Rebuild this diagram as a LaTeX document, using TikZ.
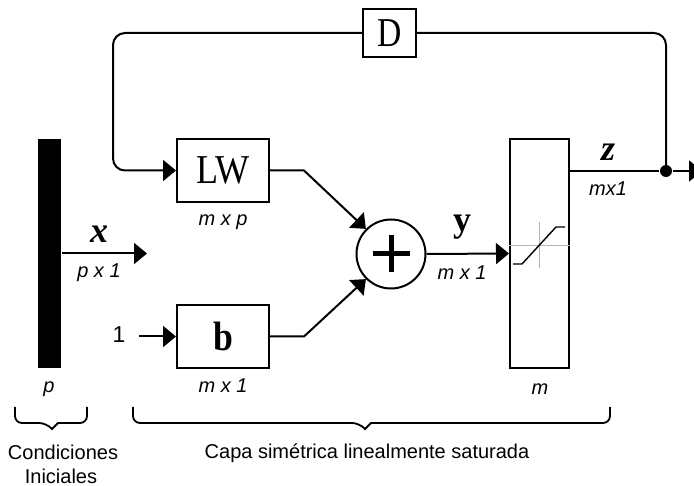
\documentclass[tikz,border=0pt]{standalone}
\usepackage{fontspec}
\setmainfont{Liberation Serif}
\setsansfont{Liberation Sans}
\usetikzlibrary{arrows.meta,calc}
\begin{document}
\begin{tikzpicture}[x=1pt,y=-1pt,
  line width=2pt,
  tip/.style={-{Triangle[length=13pt,width=21pt]}},
  blk/.style={draw,rectangle,inner sep=0pt,line width=2pt},
  dim/.style={font=\sffamily\itshape\fontsize{20}{24}\selectfont,inner sep=0pt,anchor=base},
  captxt/.style={font=\sffamily\fontsize{20}{23}\selectfont,inner sep=0pt,anchor=base},
  sig/.style={inner sep=0pt,anchor=base,font=\fontsize{36}{40}\selectfont\bfseries}
]
\useasboundingbox (0,0) rectangle (694,486);
% blocks
\node[fill=black,inner sep=0pt,minimum width=23pt,minimum height=229pt] (bar) at (49.5,253.5) {};
\node[blk,minimum width=92pt,minimum height=63pt,font=\fontsize{41}{44}\selectfont] (LW) at (223,170.5) {\scalebox{0.88}[1]{LW}};
\node[blk,minimum width=92pt,minimum height=63pt,font=\fontsize{41}{44}\selectfont\bfseries] (b) at (223,336.5) {\scalebox{0.87}[1]{b}};
\node[blk,minimum width=53pt,minimum height=48pt,font=\fontsize{41}{44}\selectfont] (D) at (389.5,33) {\scalebox{0.82}[1]{D}};
\node[draw,circle,inner sep=0pt,minimum size=69pt,line width=2pt] (sum) at (391,254) {};
\node[blk,minimum width=59pt,minimum height=229pt] (sat) at (539.5,253.5) {};
\node[circle,fill=black,inner sep=0pt,minimum size=12pt] (dot) at (666,171) {};
% plus sign
\draw[line width=5pt] ($(sum.center)+(-18.5,0)$) -- ($(sum.center)+(18.5,0)$);
\draw[line width=5pt] ($(sum.center)+(0,-18.5)$) -- ($(sum.center)+(0,18.5)$);
% saturation symbol
\draw[gray!60,line width=0.8pt] (sat.west |- 0,245) -- (sat.east |- 0,245);
\draw[gray!60,line width=0.8pt] (539,222) -- (539,268);
\draw[line width=1.4pt] (513,264) -- (522,264) -- (556,227) -- (565,227);
% coordinates
\coordinate (xend) at (147,253.5);
\coordinate (zL) at (569,171);
\coordinate (zend) at (702,171);
\coordinate (fbL) at (113,170.5);
% connectors
\draw[tip] (bar.east |- xend) -- (xend);
\draw[tip] (LW.east) -- ++(34,0) -- (sum.135);
\draw[tip] (b.east) -- ++(34,0) -- (sum.225);
\draw[tip] (sum.east) -- (sat.west);
\draw (zL) -- (dot);
\draw[tip] (dot) -- (zend);
\draw[rounded corners=12pt] (dot.center) |- (D.east);
\draw[tip,rounded corners=12pt] (D.west) -| (fbL) -- (LW.west);
\node[inner sep=0pt,anchor=base,font=\sffamily\fontsize{23}{26}\selectfont] (one) at (119,343) {1};
\draw[tip] ($(one.east |- b.west)+(13,0)$) -- (b.west);
% signal labels
\node[sig,font=\fontsize{36}{40}\selectfont\bfseries\itshape] (xl) at (99,243) {x};
\node[sig] (yl) at (462,232) {y};
\node[sig,font=\fontsize{36}{40}\selectfont\bfseries\itshape] (zl) at (608,161) {z};
% dimension labels
\node[dim] (d1) at (99,278) {p x 1};
\node[dim] (d2) at (223,226) {m x p};
\node[dim] (d3) at (223,393) {m x 1};
\node[dim] (d4) at (462,280) {m x 1};
\node[dim] (d5) at (608,196) {mx1};
\node[dim] (d6) at (49,393) {p};
\node[dim] (d7) at (540,395) {m};
% braces
\draw[line width=1.8pt,rounded corners=7pt] (15,407) -- (15,423) -- (46,423) [sharp corners] -- (52,429) -- (58,423) [rounded corners=7pt] -- (87,423) -- (87,407);
\draw[line width=1.8pt,rounded corners=7pt] (133,407) -- (133,423) -- (359,423) [sharp corners] -- (365,429) -- (371,423) [rounded corners=7pt] -- (610,423) -- (610,407);
\node[captxt] (c1) at (63,460) {Condiciones};
\node[captxt] (c1b) at (61,483) {Iniciales};
\node[captxt] (c2) at (367,458) {Capa simétrica linealmente saturada};
\end{tikzpicture}
\end{document}
